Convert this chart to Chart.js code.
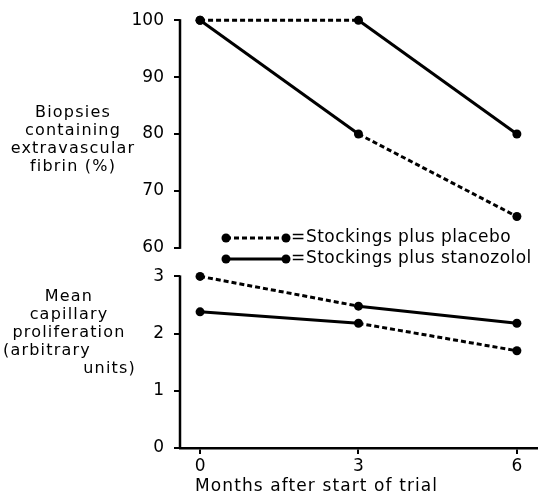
<!DOCTYPE html>
<html>
<head>
<meta charset="utf-8">
<script src="https://cdn.jsdelivr.net/npm/chart.js@4/dist/chart.umd.min.js"></script>
<style>
  html, body { margin: 0; padding: 0; background: #fff; }
  #wrap { width: 538px; height: 495px; }
</style>
</head>
<body>
<div id="wrap"><canvas id="c" width="538" height="495"></canvas></div>
<script>
// Months after start of trial
const months = [0, 3, 6];
const monthTicks = [0, 3, 6];

// Biopsies containing extravascular fibrin (%)
const placeboFibrin = [100, 100, 80];
const stanozololFibrin = [100, 80, 65.5];
const fibrinTicks = [60, 70, 80, 90, 100];

// Mean capillary proliferation (arbitrary units)
const placeboCapillary = [3.0, 2.48, 2.18];
const stanozololCapillary = [2.38, 2.18, 1.70];
const capillaryTicks = [0, 1, 2, 3];

const legendLabels = ['Stockings plus placebo', 'Stockings plus stanozolol'];
const fibrinTitle = ['Biopsies', 'containing', 'extravascular', 'fibrin (%)'];
const capillaryTitle = ['Mean', 'capillary', 'proliferation', '(arbitrary', 'units)'];
const xTitle = 'Months after start of trial';

const FONT = '"DejaVu Sans", sans-serif';
const INK = '#000';
const DASH = [5, 3];

const toPoints = vals => months.map((m, i) => ({ x: m, y: vals[i] }));

// the dashed/solid pattern switches at the 3-month point
function series(vals, axis, dashFirst) {
  return {
    data: toPoints(vals),
    yAxisID: axis,
    borderColor: INK,
    borderWidth: 3,
    pointRadius: 4.5,
    pointBackgroundColor: INK,
    pointBorderWidth: 0,
    clip: false,
    segment: {
      borderDash: ctx => ((ctx.p0DataIndex === 0) === dashFirst ? DASH : undefined)
    }
  };
}

function yAxis(min, max, ticks, weight) {
  return {
    type: 'linear',
    position: 'left',
    stack: 'panels',
    stackWeight: weight,
    min: min,
    max: max,
    afterBuildTicks: s => { s.ticks = ticks.map(v => ({ value: v })); },
    afterFit: s => { s.width = 180; },
    border: { display: false },
    grid: { drawOnChartArea: false, drawTicks: true, tickLength: 6, color: INK, lineWidth: 2 },
    ticks: { color: INK, padding: 10, font: { family: FONT, size: 17 } }
  };
}

// vertical axis lines only span the labelled range of each panel
const axisLines = {
  id: 'axisLines',
  afterDraw(chart) {
    const c = chart.ctx;
    c.save();
    c.strokeStyle = INK;
    c.lineWidth = 2.5;
    [['yTop', fibrinTicks], ['yBot', capillaryTicks]].forEach(([id, t]) => {
      const s = chart.scales[id];
      const x = s.right;
      c.beginPath();
      c.moveTo(x, s.getPixelForValue(Math.max(...t)) - 1);
      c.lineTo(x, s.getPixelForValue(Math.min(...t)) + 1);
      c.stroke();
    });
    c.restore();
  }
};

const textBlocks = {
  id: 'textBlocks',
  afterDraw(chart) {
    const c = chart.ctx;
    c.save();
    c.fillStyle = INK;
    c.textBaseline = 'middle';
    c.font = '16px ' + FONT;
    c.letterSpacing = '1.2px';
    c.textAlign = 'center';
    fibrinTitle.forEach((t, i) => c.fillText(t, 73, 113 + i * 18));
    capillaryTitle.forEach((t, i) => {
      if (i === 3) { c.textAlign = 'left'; c.fillText(t, 3, 297 + i * 18); }
      else if (i === 4) { c.textAlign = 'right'; c.fillText(t, 136, 297 + i * 18); }
      else { c.textAlign = 'center'; c.fillText(t, 69, 297 + i * 18); }
    });

    c.font = '17px ' + FONT;
    c.letterSpacing = '1.1px';
    c.textAlign = 'left';
    c.fillText(xTitle, 195, 487);

    // key
    const rows = [[238, DASH], [259, []]];
    rows.forEach(([y, dash], i) => {
      c.strokeStyle = INK;
      c.lineWidth = 3;
      c.setLineDash(dash);
      c.beginPath();
      c.moveTo(226, y);
      c.lineTo(286, y);
      c.stroke();
      c.setLineDash([]);
      [226, 286].forEach(x => {
        c.beginPath();
        c.arc(x, y, 4.5, 0, Math.PI * 2);
        c.fill();
      });
      c.font = '17px ' + FONT;
      c.letterSpacing = '0px';
      c.fillText('=', 291, y);
      c.letterSpacing = '0.45px';
      c.fillText(legendLabels[i], 306, y);
    });
    c.restore();
  }
};

new Chart(document.getElementById('c'), {
  type: 'line',
  data: {
    datasets: [
      series(placeboFibrin, 'yTop', true),
      series(stanozololFibrin, 'yTop', false),
      series(placeboCapillary, 'yBot', true),
      series(stanozololCapillary, 'yBot', false)
    ]
  },
  options: {
    responsive: false,
    animation: false,
    devicePixelRatio: 1,
    layout: { autoPadding: false, padding: { top: 20, right: 0, bottom: 0, left: 0 } },
    plugins: { legend: { display: false }, tooltip: { enabled: false } },
    scales: {
      x: {
        type: 'linear',
        min: -0.38,
        max: 6.4,
        position: 'bottom',
        afterBuildTicks: s => { s.ticks = monthTicks.map(v => ({ value: v })); },
        afterFit: s => { s.height = 47; s.paddingLeft = 0; s.paddingRight = 0; },
        border: { display: true, color: INK, width: 2.5 },
        grid: { drawOnChartArea: false, drawTicks: true, tickLength: 6, color: INK, lineWidth: 2 },
        ticks: { color: INK, padding: 2, maxRotation: 0, font: { family: FONT, size: 17 } }
      },
      yBot: yAxis(0, 3.25, capillaryTicks, 186),
      yTop: yAxis(57.5, 100, fibrinTicks, 242)
    }
  },
  plugins: [axisLines, textBlocks]
});
</script>
</body>
</html>
